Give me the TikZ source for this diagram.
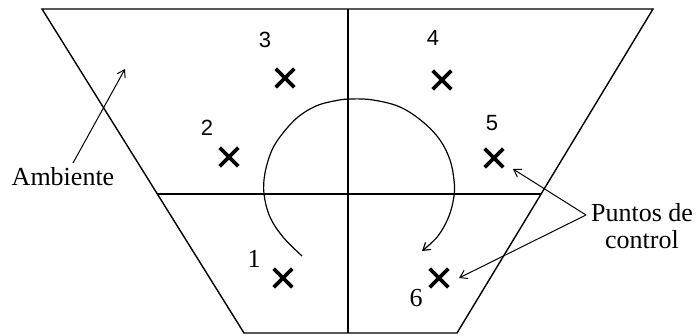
\documentclass[tikz,border=0pt]{standalone}
\usepackage{fontspec}
\setmainfont{Liberation Serif}
\newfontfamily\digsans{Liberation Sans}
\usetikzlibrary{arrows.meta,shapes.misc}
\begin{document}
\begin{tikzpicture}[x=1pt,y=-1pt,
  xmark/.style={cross out,draw,minimum size=15pt,inner sep=0pt,line width=3.6pt},
  snum/.style={font=\digsans\fontsize{22}{22}\selectfont,inner sep=0pt},
  rnum/.style={font=\fontsize{26}{26}\selectfont,inner sep=0pt},
  lbl/.style={font=\fontsize{26}{27}\selectfont,inner sep=0pt,align=center},
  edge/.style={line width=1.4pt},
  divl/.style={line width=1.9pt},
  arr/.style={line width=1pt,-{Straight Barb[length=7pt,width=9pt]}}]
\useasboundingbox (0,0) rectangle (696,336);
% trapezoid corners
\coordinate (tl) at (42,9);
\coordinate (tr) at (653,9);
\coordinate (br) at (457,333);
\coordinate (bl) at (244,333);
\coordinate (ml) at (157,194);
\coordinate (mr) at (541,194);
\coordinate (vt) at (348,9);
\coordinate (vb) at (348,333);
\draw[edge] (tl) -- (tr) -- (br) -- (bl) -- cycle;
\draw[divl] (ml) -- (mr);
\draw[divl] (vt) -- (vb);
% control points
\node[xmark] (x1) at (283,278) {};
\node[xmark] (x2) at (229,157) {};
\node[xmark] (x3) at (285,78) {};
\node[xmark] (x4) at (442,80) {};
\node[xmark] (x5) at (494,158) {};
\node[xmark] (x6) at (439,278) {};
\node[rnum] (n1) at (254,259) {1};
\node[snum] (n2) at (207,128) {2};
\node[snum] (n3) at (265,40) {3};
\node[snum] (n4) at (433,38) {4};
\node[snum] (n5) at (492,123) {5};
\node[rnum] (n6) at (416,298) {6};
% rotation arc
\draw[line width=1.2pt,-{Straight Barb[length=7pt,width=9pt]}] plot[smooth,tension=0.6] coordinates {
 (302,256) (283,237) (270,217) (264,194) (265,173) (272,150) (283,133) (298,117) (316,106) (334,101) (350,99)
 (373,100) (400,107) (423,122) (440,140) (450,160) (454,180) (454,196) (449,216) (438,236) (422,251)};
% labels
\node[lbl] (amb) at (63,177) {Ambiente};
\coordinate (a0) at (73,163);
\coordinate (a1) at (125,69);
\draw[arr] (a0) -- (a1);
\node[lbl] (pc) at (642,226) {Puntos de\\control};
\coordinate (p0) at (586,215);
\coordinate (p5) at (513,169);
\coordinate (p6) at (459,278);
\draw[arr] (p0) -- (p5);
\draw[arr] (p0) -- (p6);
\end{tikzpicture}
\end{document}
